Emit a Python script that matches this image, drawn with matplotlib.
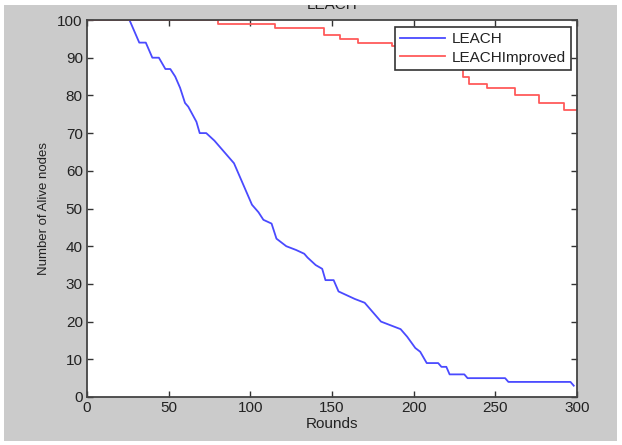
import matplotlib
matplotlib.use("Agg")
import matplotlib.pyplot as plt
from matplotlib.patches import Rectangle

# alive nodes per round
rounds_leach = [0, 26, 28, 30, 32, 36, 38, 40, 44, 48, 51, 54, 57, 60, 62, 67, 69, 73, 78,
                84, 90, 92, 95, 99, 101, 105, 108, 113, 116, 122, 128, 133, 135, 140, 144,
                146, 151, 154, 159, 164, 170, 174, 180, 186, 192, 196, 201, 204, 208, 215,
                217, 220, 222, 231, 233, 256, 258, 296, 298]
alive_leach = [100, 100, 98, 96, 94, 94, 92, 90, 90, 87, 87, 85, 82, 78, 77, 73, 70, 70, 68,
               65, 62, 60, 57, 53, 51, 49, 47, 46, 42, 40, 39, 38, 37, 35, 34,
               31, 31, 28, 27, 26, 25, 23, 20, 19, 18, 16, 13, 12, 9, 9,
               8, 8, 6, 6, 5, 5, 4, 4, 3]

rounds_improved = [0, 80, 115, 145, 155, 166, 187, 200, 215, 230, 234, 245, 262, 277, 292, 300]
alive_improved = [100, 99, 98, 96, 95, 94, 93, 91, 88, 85, 83, 82, 80, 78, 76, 76]

x_ticks = [0, 50, 100, 150, 200, 250, 300]
y_ticks = [0, 10, 20, 30, 40, 50, 60, 70, 80, 90, 100]

plt.rcParams["font.family"] = ["Liberation Sans", "DejaVu Sans"]
TXT = "#222222"

fig = plt.figure(figsize=(6.22, 4.45), dpi=100, facecolor="white")
W, H = 622, 445

# matlab grey window, cropped screenshot look
fig.patches.append(Rectangle((4 / W, 4 / H), 613 / W, 436 / H, transform=fig.transFigure,
                             facecolor="#cbcbcb", edgecolor="none", zorder=-2))
fig.text(332 / W, 1 - 9 / H, "LEACH", ha="center", va="baseline", fontsize=11,
         color=TXT, zorder=1)
fig.patches.append(Rectangle((0, 1 - 5 / H), 1, 5 / H, transform=fig.transFigure,
                             facecolor="white", edgecolor="none", zorder=5))

ax = fig.add_axes([87 / W, 1 - 397 / H, 490 / W, 377 / H])
ax.plot(rounds_leach, alive_leach, color="#4a4aff", lw=1.3, label="LEACH")
ax.step(rounds_improved, alive_improved, where="post", color="#ff5a5a", lw=1.3,
        label="LEACHImproved")

ax.set_xlim(0, 300)
ax.set_ylim(0, 100)
ax.set_xticks(x_ticks)
ax.set_yticks(y_ticks)
ax.tick_params(direction="in", length=4, width=1, top=True, right=True,
               labelsize=11, colors="#333333", labelcolor=TXT, pad=3)
for s in ax.spines.values():
    s.set_color("#444444")
    s.set_linewidth(1.3)

ax.set_xlabel("Rounds", fontsize=11, color=TXT, labelpad=1)
ax.set_ylabel("Number of Alive nodes", fontsize=9.5, color=TXT, labelpad=5)

leg = ax.legend(loc="upper right", bbox_to_anchor=(0.988, 0.982), borderaxespad=0,
                fontsize=11, handlelength=2.9, handletextpad=0.45, fancybox=False,
                framealpha=1, borderpad=0.35, labelspacing=0.3)
leg.get_frame().set_edgecolor("#333333")
leg.get_frame().set_linewidth(1.2)
for t in leg.get_texts():
    t.set_color(TXT)

fig.savefig("out.png", dpi=100, facecolor=fig.get_facecolor())
